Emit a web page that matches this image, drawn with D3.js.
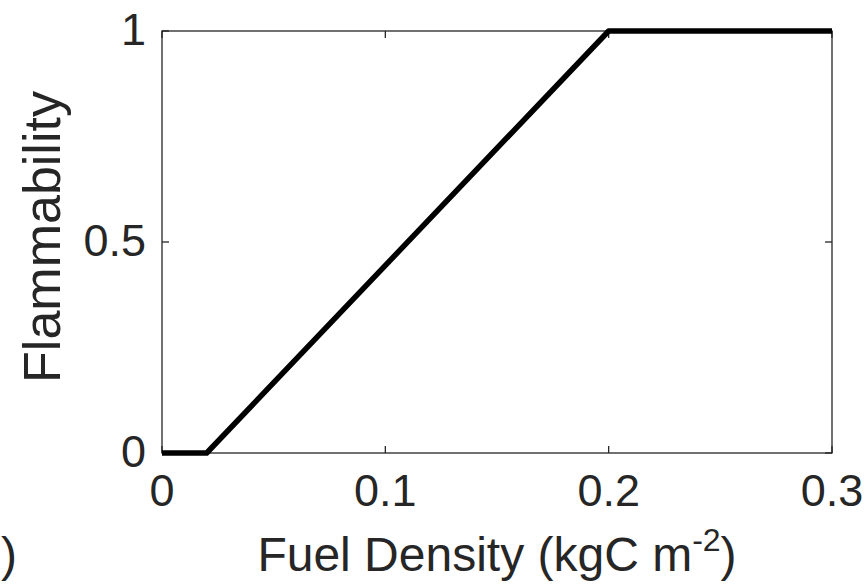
<!DOCTYPE html>
<html>
<head>
<meta charset="utf-8">
<script src="https://cdn.jsdelivr.net/npm/d3@7"></script>
<style>
  body { margin: 0; background: #fff; }
  svg { display: block; font-family: "Liberation Sans", Arial, Helvetica, sans-serif; }
</style>
</head>
<body>
<svg id="chart" width="867" height="584"></svg>
<script>
// fuel density (kgC m^-2) vs flammability
const fuelDensity = [0, 0.018, 0.02, 0.2, 0.3];
const flammability = [0, 0, 0, 1, 1];
const xTicks = [0, 0.1, 0.2, 0.3];
const yTicks = [0, 0.5, 1];

const margin = { left: 162, right: 35, top: 31, bottom: 131 };
const width = 867, height = 584;

const svg = d3.select('#chart');

const x = d3.scaleLinear().domain([0, 0.3]).range([margin.left, width - margin.right]);
const y = d3.scaleLinear().domain([0, 1]).range([height - margin.bottom, margin.top]);

const axisColor = '#262626';
const tickLen = 7;

// box
svg.append('rect')
  .attr('x', x(0)).attr('y', y(1))
  .attr('width', x(0.3) - x(0)).attr('height', y(0) - y(1))
  .attr('fill', 'none').attr('stroke', axisColor).attr('stroke-width', 1.3);

// ticks, inward on all four sides (box on)
const tickG = svg.append('g').attr('stroke', axisColor).attr('stroke-width', 1.3);
xTicks.forEach(t => {
  tickG.append('line').attr('x1', x(t)).attr('x2', x(t)).attr('y1', y(0)).attr('y2', y(0) - tickLen);
  tickG.append('line').attr('x1', x(t)).attr('x2', x(t)).attr('y1', y(1)).attr('y2', y(1) + tickLen);
});
yTicks.forEach(t => {
  tickG.append('line').attr('x1', x(0)).attr('x2', x(0) + tickLen).attr('y1', y(t)).attr('y2', y(t));
  tickG.append('line').attr('x1', x(0.3)).attr('x2', x(0.3) - tickLen).attr('y1', y(t)).attr('y2', y(t));
});

// tick labels
svg.append('g').selectAll('text')
  .data(xTicks).join('text')
  .attr('x', d => x(d)).attr('y', y(0) + 53)
  .attr('text-anchor', 'middle')
  .attr('font-size', 45).attr('fill', axisColor)
  .text(d => d3.format('')(d));

svg.append('g').selectAll('text')
  .data(yTicks).join('text')
  .attr('x', x(0) - 16).attr('y', d => y(d) + 14)
  .attr('text-anchor', 'end')
  .attr('font-size', 45).attr('fill', axisColor)
  .text(d => d3.format('')(d));

// the line
const line = d3.line().x(d => x(d[0])).y(d => y(d[1]));
svg.append('path')
  .datum(fuelDensity.map((d, i) => [d, flammability[i]]))
  .attr('d', line)
  .attr('fill', 'none').attr('stroke', '#000')
  .attr('stroke-width', 5.5).attr('stroke-linejoin', 'round');

// axis labels
svg.append('text')
  .attr('transform', `translate(60, 237) rotate(-90)`)
  .attr('text-anchor', 'middle')
  .attr('font-size', 52).attr('fill', axisColor)
  .text('Flammability');

const xl = svg.append('text')
  .attr('x', (x(0) + x(0.3)) / 2).attr('y', 571)
  .attr('text-anchor', 'middle')
  .attr('font-size', 48).attr('fill', axisColor);
xl.append('tspan').text('Fuel Density (kgC m');
xl.append('tspan').attr('font-size', 32).attr('dy', -20).text('-2');
xl.append('tspan').attr('dy', 20).text(')');

// stray bracket cut off at the left edge
svg.append('text')
  .attr('x', 1).attr('y', 571)
  .attr('font-size', 48).attr('fill', axisColor)
  .text(')');
</script>
</body>
</html>
